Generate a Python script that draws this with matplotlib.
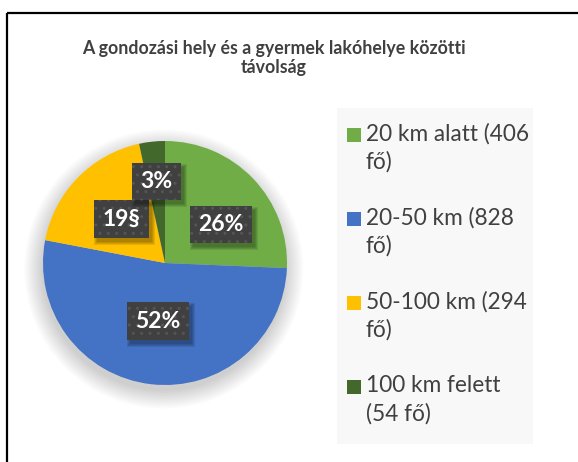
#!/usr/bin/env python
# -*- coding: utf-8 -*-

import numpy as np
import matplotlib.pyplot as plt
from matplotlib.patches import Rectangle, Circle

plt.rcParams['font.family'] = ['Lato', 'DejaVu Sans']

title = 'A gondozási hely és a gyermek lakóhelye közötti\ntávolság'
categories = ['20 km alatt (406\nfő)', '20-50 km (828\nfő)',
              '50-100 km (294\nfő)', '100 km felett\n(54 fő)']
counts = [406, 828, 294, 54]
pct_labels = ['26%', '52%', '19§', '3%']
colors = ['#70AD47', '#4472C4', '#FFC000', '#43682B']

W, H = 578, 462
TXT = '#404040'


def make_plots():
    fig = plt.figure(figsize=(W / 100, H / 100), dpi=100)

    # overlay in pixel coords (y down) for frame, title, legend
    over = fig.add_axes([0, 0, 1, 1])
    over.set_xlim(0, W)
    over.set_ylim(H, 0)
    over.axis('off')

    over.plot([7, W], [13, 13], color='black', lw=1.6, solid_capstyle='butt')
    over.plot([7, 7], [13, H], color='black', lw=1.6, solid_capstyle='butt')

    over.text(274, 58, title, ha='center', va='center', fontsize=12.8,
              fontweight='bold', color=TXT, linespacing=1.2)

    # legend box
    over.add_patch(Rectangle((337, 108), 196, 336, facecolor='#F8F8F8',
                             edgecolor='none'))
    for i, (lab, col) in enumerate(zip(categories, colors)):
        y0 = 135 + i * 84
        over.add_patch(Rectangle((347, y0 - 7), 14, 14, facecolor=col,
                                 edgecolor='none'))
        over.text(366, y0 - 12, lab, ha='left', va='top', fontsize=16.3,
                  color=TXT, linespacing=1.38)

    # pie axes
    cx, cy, r = 165, 263, 122
    ax = fig.add_axes([(cx - r) / W, (H - cy - r) / H, 2 * r / W, 2 * r / H])

    # soft shadow
    for k in range(12):
        ax.add_patch(Circle((-0.01, -0.05), 1.0 + 0.013 * k, color='black',
                            alpha=0.016, lw=0, clip_on=False, zorder=0))

    wedges, _ = ax.pie(counts, colors=colors, startangle=90, counterclock=False,
                       radius=1.0, wedgeprops=dict(linewidth=0))
    for w in wedges:
        w.set_zorder(1)
        w.set_clip_on(False)
    ax.set_xlim(-1, 1)
    ax.set_ylim(-1, 1)
    ax.axis('off')

    dist = [0.55, 0.49, 0.50, 0.66]
    nudge = [-10, 0, 0, 0]
    texts = []
    for i, (w, lab, d, n) in enumerate(zip(wedges, pct_labels, dist, nudge)):
        ang = np.deg2rad((w.theta1 + w.theta2) / 2 + n)
        x, y = d * np.cos(ang), d * np.sin(ang)
        t = ax.text(x, y + 0.01, lab, ha='center', va='center', fontsize=16.5,
                    fontweight='bold', color='white', zorder=4 + 2 * i,
                    bbox=dict(boxstyle='square,pad=0.36', facecolor='#404040',
                              edgecolor='#555555', linewidth=0, hatch='..'))
        texts.append(t)

    # blurred shadows behind label boxes
    fig.canvas.draw()
    inv = ax.transData.inverted()
    for i, t in enumerate(texts):
        ext = t.get_bbox_patch().get_window_extent()
        for k in range(4):
            g = 3 - k
            (x0, y0), (x1, y1) = inv.transform([(ext.x0 + 3 - g, ext.y0 - 4 - g),
                                                (ext.x1 + 3 + g, ext.y1 - 4 + g)])
            ax.add_patch(Rectangle((x0, y0), x1 - x0, y1 - y0, facecolor='black',
                                   alpha=0.09, lw=0, zorder=3 + 2 * i))

    plt.savefig('out.png', dpi=100)


if __name__ == '__main__':
    make_plots()
